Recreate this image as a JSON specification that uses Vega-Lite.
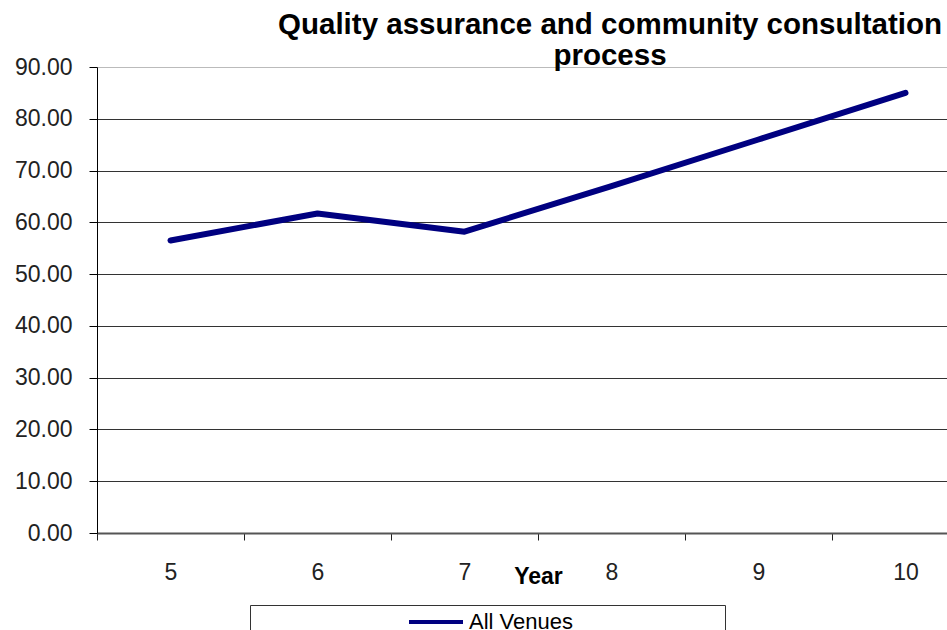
{
  "$schema": "https://vega.github.io/schema/vega-lite/v6.json",
  "autosize": "none",
  "width": 850,
  "height": 466,
  "padding": {"left": 97, "top": 67, "right": 0, "bottom": 97},
  "background": "white",
  "config": {"view": {"stroke": null}, "font": "Liberation Sans"},
  "title": {
    "text": ["Quality assurance and community consultation", "process"],
    "anchor": "middle",
    "frame": "group",
    "dx": 88,
    "dy": 38,
    "fontSize": 29.5,
    "fontWeight": "bold",
    "font": "Liberation Sans",
    "color": "#000",
    "lineHeight": 31,
    "baseline": "alphabetic",
    "offset": 0
  },
  "data": {
    "values": [
      {"Year": "5", "Value": 56.5, "Series": "All Venues"},
      {"Year": "6", "Value": 61.7, "Series": "All Venues"},
      {"Year": "7", "Value": 58.2, "Series": "All Venues"},
      {"Year": "8", "Value": 67.0, "Series": "All Venues"},
      {"Year": "9", "Value": 76.0, "Series": "All Venues"},
      {"Year": "10", "Value": 85.0, "Series": "All Venues"}
    ]
  },
  "mark": {"type": "line", "strokeWidth": 6, "strokeCap": "round", "strokeJoin": "round"},
  "encoding": {
    "x": {
      "field": "Year",
      "type": "ordinal",
      "sort": ["5", "6", "7", "8", "9", "10"],
      "scale": {"type": "band", "range": [0, 882], "paddingInner": 0, "paddingOuter": 0},
      "axis": {
        "title": "Year",
        "titleFontSize": 23,
        "titleFontWeight": "bold",
        "titleColor": "#000",
        "titleBaseline": "alphabetic",
        "titleY": 50,
        "labelAngle": 0,
        "labelFontSize": 23,
        "labelColor": "#222",
        "labelBaseline": "alphabetic",
        "labelPadding": 39,
        "tickBand": "extent",
        "tickSize": 7,
        "tickColor": "#222",
        "domainColor": "#555",
        "domainWidth": 2,
        "grid": false
      }
    },
    "y": {
      "field": "Value",
      "type": "quantitative",
      "scale": {"domain": [0, 90], "nice": false},
      "axis": {
        "title": null,
        "values": [0, 10, 20, 30, 40, 50, 60, 70, 80, 90],
        "format": ".2f",
        "labelFontSize": 23,
        "labelColor": "#222",
        "labelPadding": 17,
        "tickSize": 8,
        "tickColor": "#000",
        "domainColor": "#000",
        "grid": true,
        "gridColor": {"condition": {"test": "datum.value == 90", "value": "#bbbbbb"}, "value": "#333333"},
        "gridWidth": 1.2
      }
    },
    "color": {
      "field": "Series",
      "type": "nominal",
      "scale": {"range": ["#000080"]},
      "legend": {
        "orient": "none",
        "legendX": 153,
        "legendY": 538,
        "title": "\u00a0",
        "titleOrient": "right",
        "titlePadding": 152,
        "padding": 0,
        "strokeColor": "#333",
        "fillColor": "white",
        "symbolType": "M-1.8,0H1.8",
        "symbolSize": 900,
        "symbolStrokeWidth": 4,
        "symbolOffset": 169,
        "labelOffset": 16,
        "labelFontSize": 22,
        "labelColor": "#000"
      }
    }
  }
}
